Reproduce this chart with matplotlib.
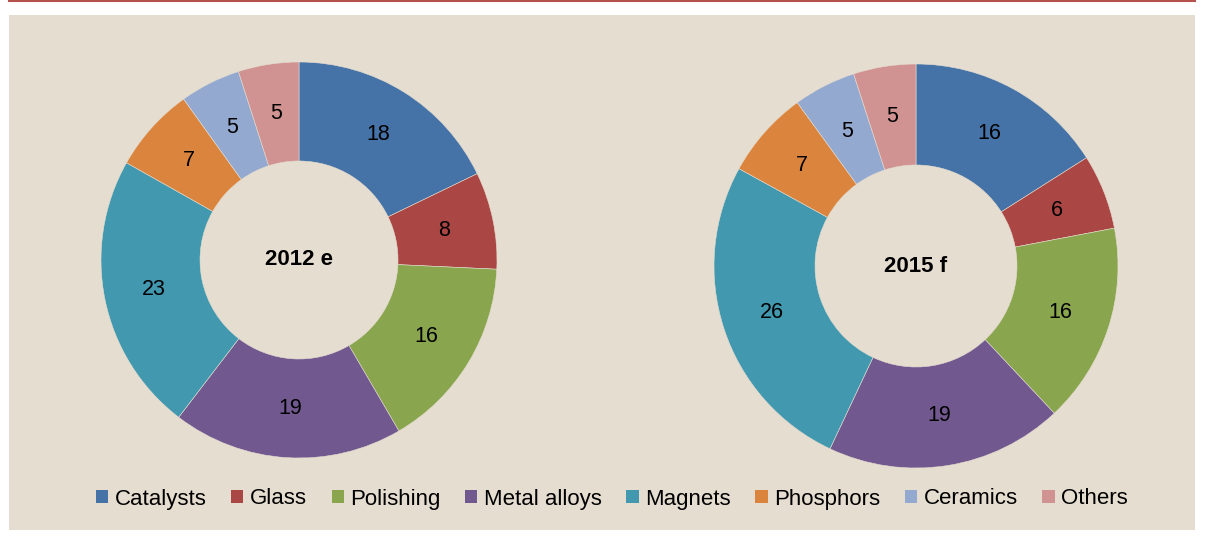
import matplotlib
matplotlib.use("Agg")
import matplotlib.pyplot as plt
from matplotlib.patches import Rectangle, Patch
from matplotlib.lines import Line2D

plt.rcParams['font.family'] = ['Liberation Sans', 'DejaVu Sans']

categories = ["Catalysts", "Glass", "Polishing", "Metal alloys", "Magnets",
              "Phosphors", "Ceramics", "Others"]
values_2012 = [18, 8, 16, 19, 23, 7, 5, 5]
values_2015 = [16, 6, 16, 19, 26, 7, 5, 5]
titles = ["2012 e", "2015 f"]
colors = ["#4572A7", "#AA4643", "#89A54E", "#71588F", "#4198AF",
          "#DB843D", "#93A9CF", "#D19392"]
bg = "#E5DDD0"

W, H = 1205, 536
fig = plt.figure(figsize=(W / 100, H / 100), dpi=100)
fig.patch.set_facecolor("white")

# beige panel and red rule on top
fig.patches.append(Rectangle((9 / W, 1 - 530 / H), (1195 - 9) / W, (530 - 15) / H,
                             transform=fig.transFigure, facecolor=bg,
                             edgecolor="none", zorder=-5))
fig.lines.append(Line2D([9 / W, 1195 / W], [1 - 1 / H, 1 - 1 / H],
                        transform=fig.transFigure, color="#B5524E", lw=1.5))


def donut(cx, cy, r, values, title):
    ax = fig.add_axes([(cx - r) / W, 1 - (cy + r) / H, 2 * r / W, 2 * r / H])
    ax.set_facecolor("none")
    wedges, texts = ax.pie(values, colors=colors, startangle=90, counterclock=False,
                           radius=1, labels=[str(v) for v in values],
                           labeldistance=0.75,
                           wedgeprops=dict(width=0.5, edgecolor=bg, linewidth=0.4),
                           textprops=dict(fontsize=15.5, color="black",
                                          ha="center", va="center"))
    ax.text(0, 0, title, ha="center", va="center", fontsize=16, fontweight="bold")
    ax.set_xlim(-1, 1)
    ax.set_ylim(-1, 1)
    ax.set_aspect("equal")
    ax.axis("off")


donut(299, 260, 198, values_2012, titles[0])
donut(916, 266, 202, values_2015, titles[1])

handles = [Patch(facecolor=c, edgecolor="none") for c in colors]
fig.legend(handles, categories, loc="center", ncol=8,
           bbox_to_anchor=(612 / W, 1 - 499 / H), frameon=False,
           fontsize=16, handlelength=0.55, handleheight=0.55,
           handletextpad=0.3, columnspacing=1.1, borderpad=0)

fig.savefig("out.png", dpi=100, facecolor=fig.get_facecolor())
